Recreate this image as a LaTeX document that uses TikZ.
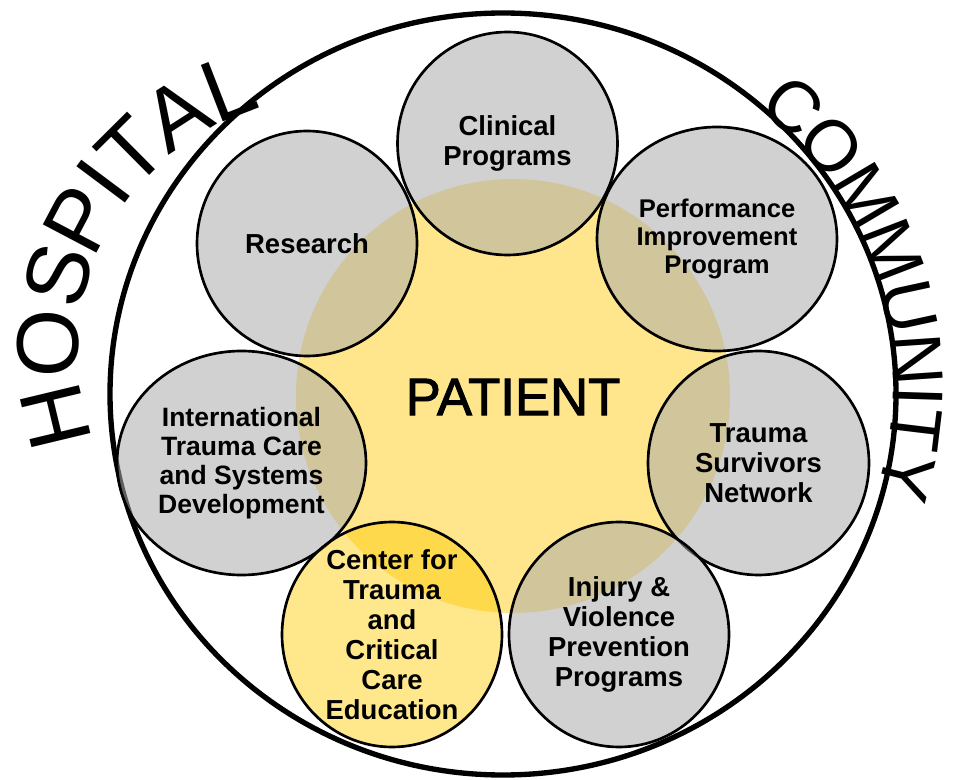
\documentclass[tikz,border=0pt]{standalone}
\usepackage{fontspec}
\setmainfont{Liberation Sans}
\newfontfamily\patientfont[FakeBold=1.8]{Liberation Sans}
\usetikzlibrary{shapes.geometric,calc}
\definecolor{patientyellow}{RGB}{255,229,140}
\definecolor{bubgrey}{RGB}{170,170,170}
\definecolor{ctyellow}{RGB}{255,204,0}
\begin{document}
\begin{tikzpicture}[x=0.75pt,y=-0.75pt,
  bub/.style={ellipse, draw=black, line width=2pt, fill=bubgrey, fill opacity=0.54, inner sep=0pt},
  ctbub/.style={ellipse, draw=black, line width=2pt, fill=ctyellow, fill opacity=0.45, inner sep=0pt},
  lbl/.style={align=center, inner sep=0pt, font=\bfseries\fontsize{20.6pt}{22.5pt}\selectfont},
  hosp/.style={anchor=base, inner sep=0pt, font=\fontsize{66pt}{66pt}\selectfont},
  comm/.style={anchor=base, inner sep=0pt, font=\fontsize{54pt}{54pt}\selectfont}]
\useasboundingbox (0,0) rectangle (953,780);
\fill[white] (0,0) rectangle (953,780);
% patient disc
\node[circle, fill=patientyellow, minimum size=325.5pt, inner sep=0pt] (patientdisc) at (513,396) {};
% outer ring
\node[ellipse, draw=black, line width=4pt, minimum width=589.5pt, minimum height=571.5pt, inner sep=0pt] (outer) at (503,394) {};
% bubbles
\node[bub, minimum width=165pt, minimum height=167.25pt] (clinical) at (507.5,143.5) {};
\node[bub, minimum width=180pt, minimum height=168pt] (perf) at (717,239) {};
\node[bub, minimum width=165pt, minimum height=168.75pt] (research) at (307,243.5) {};
\node[bub, minimum width=186.75pt, minimum height=168pt] (intl) at (241.5,463) {};
\node[bub, minimum width=165.75pt, minimum height=168pt] (survivors) at (758.5,463) {};
\node[bub, minimum width=165pt, minimum height=168.75pt] (injury) at (619,634.5) {};
\node[ctbub, minimum width=165pt, minimum height=168.75pt] (center) at (392,634.5) {};
% labels
\node[lbl] (clinicalt) at (clinical) {Clinical\\Programs};
\node[lbl, font=\bfseries\fontsize{19.2pt}{21pt}\selectfont] (perft) at (perf) {Performance\\Improvement\\Program};
\node[lbl] (researcht) at (research) {Research};
\node[lbl, font=\bfseries\fontsize{19.9pt}{21.75pt}\selectfont] (intlt) at (intl) {International\\Trauma Care\\and Systems\\Development};
\node[lbl] (survivorst) at (survivors) {Trauma\\Survivors\\Network};
\node[lbl] (injuryt) at (injury) {Injury \&\\Violence\\Prevention\\Programs};
\node[lbl] (centert) at (center) {Center for\\Trauma\\and\\Critical\\Care\\Education};
\node[inner sep=0pt, font=\patientfont\fontsize{39.5pt}{40pt}\selectfont] (patient) at (513,397) {PATIENT};
% arc texts
\coordinate (hc) at (330,351);
\foreach \ch/\a [count=\i] in {H/193.5,O/178.5,S/164.3,P/152.2,I/143.2,T/134.8,A/122.8,L/111.2}
  \node[hosp, rotate=\a-90] (hosp\i) at ($(hc)+({-(\a)}:252)$) {\ch};
\coordinate (cc) at (545,385);
\foreach \ch/\a [count=\i] in {C/48.3,O/39.8,M/30.6,M/21.1,U/12.2,N/3.9,I/-1.8,T/-6.9,Y/-14.2}
  \node[comm, rotate=\a-90] (comm\i) at ($(cc)+({-(\a)}:348)$) {\ch};
\end{tikzpicture}
\end{document}
